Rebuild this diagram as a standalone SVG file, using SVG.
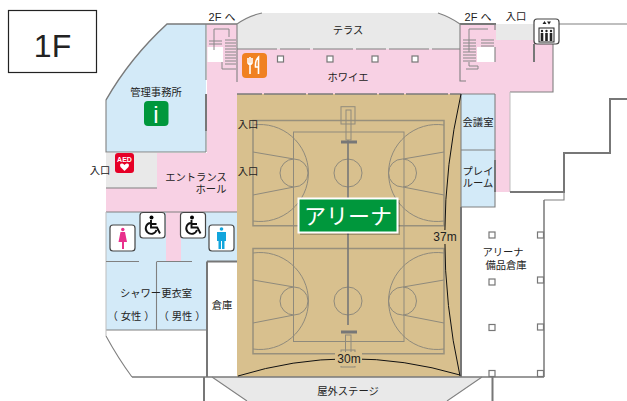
<svg xmlns="http://www.w3.org/2000/svg" width="627" height="401" viewBox="0 0 627 401">
<defs>
<style>
text{font-family:"Liberation Sans","Noto Sans CJK JP",sans-serif;font-size:10.300px;fill:#222;text-anchor:middle}
.w{fill:none;stroke:#808080;stroke-width:1.100}
.m{fill:none;stroke:#7a7a7a;stroke-width:1.500}
.t{fill:none;stroke:#777;stroke-width:2}
.l{fill:none;stroke:#bdbdbd;stroke-width:1}
.c{fill:none;stroke:#8f8a7c;stroke-width:1}
.d{fill:none;stroke:#98907c;stroke-width:1.500}
.col{fill:#fff;stroke:#777;stroke-width:1.200}
.icon{fill:#fff;stroke:#444;stroke-width:1.200}
.st{fill:none;stroke:#888;stroke-width:1}
</style>
<g id="court-half">
<path class="d" d="M253 120.500V225.700H444V120.500Z"/>
<path class="c" d="M253 125A48.500 48.500 0 1 1 253 221M444 125A48.500 48.500 0 1 0 444 221"/>
<path class="c" d="M253 152L294 159M253 195L294 187M444 152L403 159M444 195L403 187"/>
<circle class="c" cx="294" cy="173" r="14"/><circle class="c" cx="402.500" cy="173" r="14"/><circle class="c" cx="348" cy="173" r="14"/>
</g>
<g id="wheel"><circle cx="11.500" cy="5.500" r="2"/><path d="M11 8V15.500H17L20 21.500M10 11A5.500 5.500 0 1 0 16.500 18M11 12H16.500" fill="none" stroke="#111" stroke-width="1.900"/></g>
</defs>
<rect width="627" height="401" fill="#fff"/>
<g id="floors">
<path id="pink" fill="#f8d1e4" d="M207 24H237V49H460V24H496V40H553V92H510V192H495V94H237V212H181V261H166V212H106V188H157V153H207Z"/>
<path id="terrace" fill="#e9e9e9" d="M237 24Q248 16 262 13H438Q450 17 460 24V49H237Z"/>
<rect x="496" y="24" width="38" height="16" fill="#e9e9e9"/>
<rect x="106" y="153" width="51" height="35" fill="#e9e9e9"/>
<path id="stage" fill="#e9e9e9" d="M212 377H482L447 401H247Z"/>
<path id="office" fill="#d3eaf8" d="M167 24H206V152H106V100Q130 58 167 24Z"/>
<path fill="#d3eaf8" d="M106 212H166V261H181V212H237V262H207V330H106Z"/>
<rect x="461" y="94" width="34" height="113" fill="#d3eaf8"/>
<rect x="237" y="94" width="224" height="283" fill="#d8c08e"/>
<rect x="207.500" y="47" width="15.500" height="15" fill="#fff"/>
<rect x="477" y="47" width="18" height="15" fill="#fff"/>
</g>
<g id="court">
<use href="#court-half"/>
<use href="#court-half" y="128"/>
<rect class="c" x="293.500" y="132" width="110.500" height="209.500"/>
<path d="M348 140V198M348 233V325" fill="none" stroke="#777" stroke-width="1.600"/>
<path d="M341 142H357M341 332H357" fill="none" stroke="#777" stroke-width="3"/>
<rect class="c" x="341" y="106.700" width="14" height="17.300"/><rect class="c" x="346" y="110" width="5" height="30"/>
<rect class="c" x="345.500" y="335" width="5.500" height="18"/><rect class="c" x="341" y="350" width="14" height="17"/>
</g>
<g id="walls">
<rect x="8.500" y="10.500" width="88" height="62" fill="#fff" stroke="#222" stroke-width="1.200"/>
<path class="m" d="M106 100Q130 58 167 24H237"/>
<path class="w" d="M106 100V152H206M206 24V80M206 131V152"/>
<path class="t" d="M206 94V131"/>
<path class="w" d="M237 24V82M106 188H157M106 212H237M237 24Q248 16 262 13M438 13Q450 17 460 24"/>
<path class="t" d="M460 24H496"/>
<path class="w" d="M460 24V81H466M495 24V30M495 47V62"/>
<path class="t" d="M534 44V62"/>
<path class="w" d="M237 49H460" stroke-dasharray="40 3 30 3"/>
<path class="m" d="M237 94H461" stroke-dasharray="25 2 42 2"/>
<path class="w" d="M559 24H627M553 44V92H510"/>
<path class="l" d="M510 92V192"/>
<path class="t" d="M510 192H564V153H610V99H627"/>
<path class="w" d="M495 94V160M495 192V207H461M461 94H495M461 150H495M461 94V207"/>
<path class="t" d="M495 160V192"/>
<path class="t" d="M461 207V377"/>
<path class="w" d="M544 200H564V192"/>
<path class="m" d="M544 200V377M132 377H544"/>
<path class="w" d="M106 330H207M106 336Q118 358 132 377"/>
<path class="l" d="M106 212V336"/>
<path class="w" d="M106 261.500H139M156.500 261.500H192M156.500 262V330"/>
<path class="t" d="M207 261.500H237M207 261.500V377M204 377V401M492.500 377V401"/>
<path class="w" d="M212 377L247 401M482 377L447 401"/>
</g>
<g id="stairs">
<path class="st" d="M214 50V29H229V37M222 62V69H236M209 41H222M209 44H222M225 40H236M225 43H236M225 46H236M225 49H236M225 52H236M225 55H236M225 58H236M225 61H236M225 64H236"/>
<path class="st" d="M469 62V66H478V69H466M469 52V29H488M463 40H476M463 43H476M463 46H476M463 49H476M463 52H476M463 55H476M463 58H476M463 61H476M481 40H494M481 43H494M481 46H494"/>
</g>
<g id="columns">
<rect class="col" x="277.500" y="56" width="6" height="6"/><rect class="col" x="327" y="56" width="6" height="6"/><rect class="col" x="372" y="56" width="6" height="6"/><rect class="col" x="412" y="56" width="6" height="6"/>
<rect class="col" x="489" y="232" width="6" height="6"/><rect class="col" x="489" y="279" width="6" height="6"/><rect class="col" x="489" y="324.500" width="6" height="6"/><rect class="col" x="489" y="370.500" width="6" height="6"/>
<rect class="col" x="537.500" y="232" width="6" height="6"/><rect class="col" x="537.500" y="277" width="6" height="6"/><rect class="col" x="537.500" y="324" width="6" height="6"/><rect class="col" x="537.500" y="370.500" width="6" height="6"/>
</g>
<g id="dimensions">
<path d="M461 94Q429 235 460 376M238 376Q348 342 460 375" fill="none" stroke="#111" stroke-width="1"/>
<rect x="431" y="230" width="28" height="14" fill="#d8c08e"/>
<rect x="335" y="352" width="27" height="14" fill="#d8c08e"/>
<text x="445" y="241" style="font-size:12px">37m</text>
<text x="349" y="363" style="font-size:12px">30m</text>
</g>
<g id="arena-sign">
<rect x="300" y="200" width="100" height="35" fill="#000" opacity=".25"/>
<rect x="298.500" y="198.500" width="99" height="34" fill="#00973c" stroke="#fff" stroke-width="2"/>
<text x="348" y="224" style="font-size:22px;fill:#fff">アリーナ</text>
</g>
<g id="icon-info"><rect x="144" y="101" width="24.500" height="25" rx="4" fill="#00973c"/><text x="156" y="123" style="font:24px 'Liberation Sans';fill:#fff">i</text></g>
<g id="icon-aed"><rect x="115" y="153" width="19" height="20" rx="3" fill="#e60026"/><text x="124.500" y="161.500" style="font:bold 7px 'Liberation Sans';fill:#fff">AED</text><path fill="#fff" d="M124.500 171L120.500 167Q119 163 122.500 163.500Q124 164 124.500 165Q125 164 126.500 163.500Q130 163 128.500 167Z"/></g>
<g id="icon-restaurant"><rect x="242" y="53" width="25" height="25" rx="4" fill="#f08122"/><path d="M250 57V74M248 58V63Q250 66 252 63V58M258.500 74V57Q255 60 255.500 67H258.500" fill="none" stroke="#fff" stroke-width="1.600"/></g>
<g id="icon-elevator"><rect x="534" y="19" width="25" height="25" rx="3" class="icon"/>
<rect x="539" y="28" width="15" height="14" fill="#fff" stroke="#222"/>
<g fill="#222"><circle cx="542" cy="31" r="1.200"/><circle cx="546.500" cy="31" r="1.200"/><circle cx="551" cy="31" r="1.200"/><rect x="540.700" y="33" width="2.600" height="8"/><rect x="545.200" y="33" width="2.600" height="8"/><rect x="549.700" y="33" width="2.600" height="8"/><path d="M544.500 21L546.500 24H542.500ZM549 24.500L547 21.500H551Z"/></g></g>
<g id="icon-female"><rect x="110" y="225" width="25" height="26" rx="3" class="icon"/><circle cx="122.800" cy="229.500" r="1.700" fill="#e8308c"/><path fill="#e8308c" d="M120.500 232H125L127 242H124V249H122V242H118.500Z"/></g>
<g id="icon-male"><rect x="209" y="225" width="25" height="26" rx="3" class="icon"/><circle cx="221.500" cy="229" r="1.800" fill="#12a5dc"/><path fill="#12a5dc" d="M217 232H226V241H224.500V249H222V241H221V249H218.500V241H217Z"/></g>
<g id="icon-wheel-1"><rect x="140" y="212.500" width="25" height="25.500" rx="3" class="icon"/><use href="#wheel" x="140" y="212"/></g>
<g id="icon-wheel-2"><rect x="180.500" y="212.500" width="25" height="25.500" rx="3" class="icon"/><use href="#wheel" x="180.500" y="212"/></g>
<g id="labels">
<text x="52.500" y="57" style="font:32px 'Liberation Sans';fill:#222">1F</text>
<text x="222" y="21" style="font-size:11px">2F へ</text>
<text x="478" y="21" style="font-size:11px">2F へ</text>
<text x="516" y="20">入口</text>
<text x="348" y="34">テラス</text>
<text x="348" y="81">ホワイエ</text>
<text x="156" y="96">管理事務所</text>
<text x="100" y="174">入口</text>
<text x="248" y="128">入口</text>
<text x="248" y="175">入口</text>
<text x="196" y="181">エントランス</text>
<text x="211" y="193">ホール</text>
<text x="478" y="126">会議室</text>
<text x="478" y="175">プレイ</text>
<text x="478" y="187">ルーム</text>
<text x="156" y="297">シャワー更衣室</text>
<text x="131" y="320">（ 女性 ）</text>
<text x="182" y="320">（ 男性 ）</text>
<text x="222" y="309">倉庫</text>
<text x="503" y="256">アリーナ</text>
<text x="506" y="269">備品倉庫</text>
<text x="348" y="395">屋外ステージ</text>
</g>
</svg>
